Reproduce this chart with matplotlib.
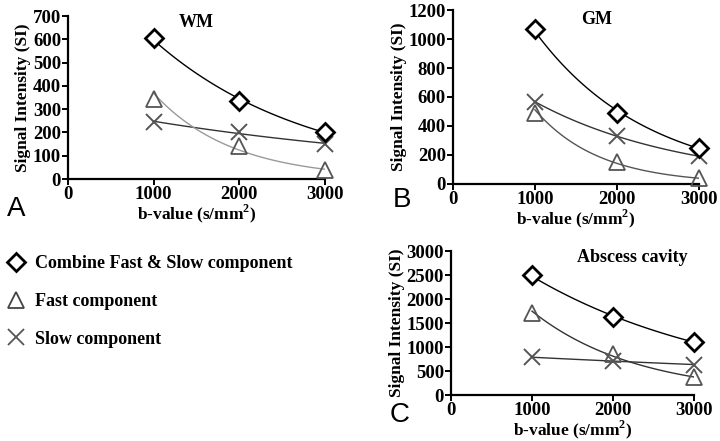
import numpy as np
import matplotlib
matplotlib.use("Agg")
import matplotlib.pyplot as plt
from matplotlib.lines import Line2D

SERIF = "Liberation Serif"
SANS = "Liberation Sans"
plt.rcParams["mathtext.fontset"] = "custom"
plt.rcParams["mathtext.rm"] = SERIF
plt.rcParams["mathtext.bf"] = SERIF + ":bold"

# ---- data
b_values = [1000, 2000, 3000]

wm_combined = [605, 335, 202]
wm_fast = [343, 143, 39]
wm_slow = [243, 203, 150]

gm_combined = [1067, 493, 248]
gm_fast = [493, 153, 38]
gm_slow = [564, 333, 190]

abs_combined = [2495, 1620, 1110]
abs_fast = [1710, 845, 367]
abs_slow = [783, 714, 631]

panels = [
    # (title, letter, combined, fast, slow, ymax, ystep)
    ("WM", "A", wm_combined, wm_fast, wm_slow, 700, 100),
    ("GM", "B", gm_combined, gm_fast, gm_slow, 1200, 200),
    ("Abscess cavity", "C", abs_combined, abs_fast, abs_slow, 3000, 500),
]

fig = plt.figure(figsize=(7.2, 4.41), dpi=100)

positions = [
    [0.0944, 0.5941, 0.3570, 0.3696],
    [0.6290, 0.5828, 0.3420, 0.3945],
    [0.6264, 0.1043, 0.3375, 0.3265],
]
title_pos = [(0.50, 1.01), (0.585, 0.995), (0.745, 1.015)]
letter_pos = [(0.010, 0.497), (0.545, 0.517), (0.541, 0.029)]
fast_line_col = ["#9a9a9a", "#555555", "#333333"]


def exp_fit(x, y):
    # exponential decay fitted to the three points (log-linear)
    k, c = np.polyfit(x, np.log(y), 1)
    xs = np.linspace(min(x), max(x), 100)
    return xs, np.exp(c + k * xs)


for i, (title, letter, comb, fast, slow, ymax, ystep) in enumerate(panels):
    ax = fig.add_axes(positions[i])
    x = np.array(b_values, dtype=float)

    # fitted curves
    xs, ys = exp_fit(x, slow)
    ax.plot(xs, ys, color="#333333", lw=1.0, zorder=2)
    xs, ys = exp_fit(x, fast)
    ax.plot(xs, ys, color=fast_line_col[i], lw=1.0, zorder=2)
    xs, ys = exp_fit(x, comb)
    ax.plot(xs, ys, color="black", lw=1.0, zorder=2)

    # points
    ax.plot(x, slow, ls="none", marker="x", ms=11, mew=1.4,
            color="#555555", zorder=3, clip_on=False)
    ax.plot(x, fast, ls="none", marker="^", ms=12, mew=1.3,
            mfc="none", mec="#555555", zorder=3, clip_on=False)
    ax.plot(x, comb, ls="none", marker="D", ms=9, mew=2.0,
            mfc="white", mec="black", zorder=4, clip_on=False)

    ax.set_xlim(0, 3000)
    ax.set_ylim(0, ymax)
    ax.set_xticks([0, 1000, 2000, 3000])
    ax.set_yticks(np.arange(0, ymax + 1, ystep))
    for s in ["top", "right"]:
        ax.spines[s].set_visible(False)
    for s in ["left", "bottom"]:
        ax.spines[s].set_linewidth(1.6)
    ax.tick_params(width=1.4, length=4, pad=1)
    for lab in ax.get_xticklabels() + ax.get_yticklabels():
        lab.set_fontfamily(SERIF)
        lab.set_fontweight("bold")
        lab.set_fontsize(13.5)
    ax.set_xlabel("b-value (s/mm$^\\mathbf{2}$)", fontfamily=SERIF,
                  fontweight="bold", fontsize=12.5, labelpad=0)
    ax.set_ylabel("Signal Intensity (SI)", fontfamily=SERIF,
                  fontweight="bold", fontsize=12.5, labelpad=1)
    ax.text(title_pos[i][0], title_pos[i][1], title, transform=ax.transAxes,
            ha="center", va="top", fontfamily=SERIF, fontweight="bold",
            fontsize=13)
    fig.text(letter_pos[i][0], letter_pos[i][1], letter, fontfamily=SANS,
             fontsize=20, ha="left", va="bottom")

# ---- legend (markers only)
handles = [
    Line2D([], [], ls="none", marker="D", ms=9, mew=2.0, mfc="white", mec="black"),
    Line2D([], [], ls="none", marker="^", ms=11, mew=1.3, mfc="none", mec="#444444"),
    Line2D([], [], ls="none", marker="x", ms=11, mew=1.3, color="#555555"),
]
labels = ["Combine Fast & Slow component", "Fast component", "Slow component"]
fig.legend(handles, labels, loc="upper left", bbox_to_anchor=(-0.016, 0.458),
           frameon=False, handlelength=1.2, handletextpad=0.45,
           labelspacing=1.15,
           prop={"family": SERIF, "weight": "bold", "size": 13})

fig.savefig("out.png", dpi=100)
